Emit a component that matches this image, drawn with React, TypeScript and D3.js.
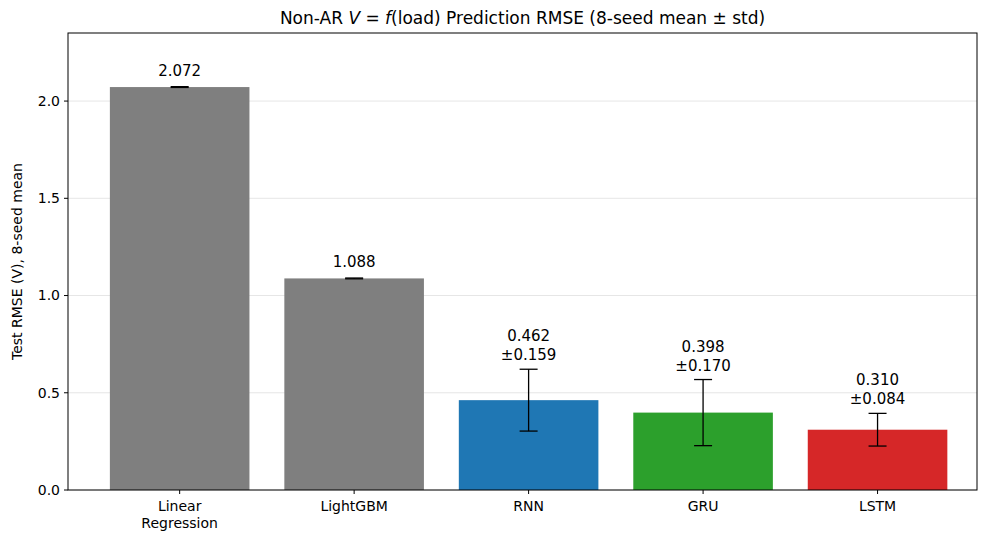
import * as d3 from 'd3';

const models = ['Linear\nRegression', 'LightGBM', 'RNN', 'GRU', 'LSTM'];
const means = [2.072, 1.088, 0.462, 0.398, 0.31];
const stds = [0.002, 0.002, 0.159, 0.17, 0.084];
const colors = ['#7f7f7f', '#7f7f7f', '#1f77b4', '#2ca02c', '#d62728'];
const showStd = [false, false, true, true, true];
const yTicks = [0, 0.5, 1.0, 1.5, 2.0];

const W = 1001, H = 544;
const m = { left: 68, right: 977, top: 33, bottom: 490 };

export default function App() {
  const x = d3.scaleLinear().domain([-0.64, 4.57]).range([m.left, m.right]);
  const y = d3.scaleLinear().domain([0, 2.35]).range([m.bottom, m.top]);
  const bw = x(0.8) - x(0);
  const font = 'DejaVu Sans, sans-serif';
  return (
    <svg width={W} height={H} style={{ position: 'absolute', left: 0, top: 0 }} fontFamily={font}>
      <rect width={W} height={H} fill="#fff" />
      {yTicks.map(t => (
        <g key={t}>
          <line x1={m.left} x2={m.right} y1={y(t)} y2={y(t)} stroke="#e6e6e6" />
          <line x1={m.left - 4} x2={m.left} y1={y(t)} y2={y(t)} stroke="#000" />
          <text x={m.left - 8} y={y(t)} dy="0.35em" textAnchor="end" fontSize={14}>{t.toFixed(1)}</text>
        </g>
      ))}
      {models.map((name, i) => {
        const cx = x(i);
        const top = y(means[i] + stds[i]);
        const bot = y(means[i] - stds[i]);
        return (
          <g key={name}>
            <rect x={cx - bw / 2} y={y(means[i])} width={bw} height={y(0) - y(means[i])} fill={colors[i]} />
            <line x1={cx} x2={cx} y1={top} y2={bot} stroke="#000" strokeWidth={1.3} />
            <line x1={cx - 9} x2={cx + 9} y1={top} y2={top} stroke="#000" strokeWidth={1.3} />
            <line x1={cx - 9} x2={cx + 9} y1={bot} y2={bot} stroke="#000" strokeWidth={1.3} />
            {showStd[i] ? (
              <text x={cx} textAnchor="middle" fontSize={15}>
                <tspan x={cx} y={top - 28}>{means[i].toFixed(3)}</tspan>
                <tspan x={cx} y={top - 9}>±{stds[i].toFixed(3)}</tspan>
              </text>
            ) : (
              <text x={cx} y={top - 11} textAnchor="middle" fontSize={15}>{means[i].toFixed(3)}</text>
            )}
            <line x1={cx} x2={cx} y1={m.bottom} y2={m.bottom + 4} stroke="#000" />
            <text x={cx} textAnchor="middle" fontSize={14}>
              {name.split('\n').map((s, k) => (
                <tspan key={k} x={cx} y={m.bottom + 21 + k * 17}>{s}</tspan>
              ))}
            </text>
          </g>
        );
      })}
      <rect x={m.left} y={m.top} width={m.right - m.left} height={m.bottom - m.top} fill="none" stroke="#000" />
      <text transform={`translate(22,${(m.top + m.bottom) / 2}) rotate(-90)`} textAnchor="middle" fontSize={14}>Test RMSE (V), 8-seed mean</text>
      <text x={(m.left + m.right) / 2} y={24} textAnchor="middle" fontSize={17}>
        Non-AR <tspan fontStyle="italic">V</tspan> = <tspan fontStyle="italic">f</tspan>(load) Prediction RMSE (8-seed mean ± std)
      </text>
    </svg>
  );
}
